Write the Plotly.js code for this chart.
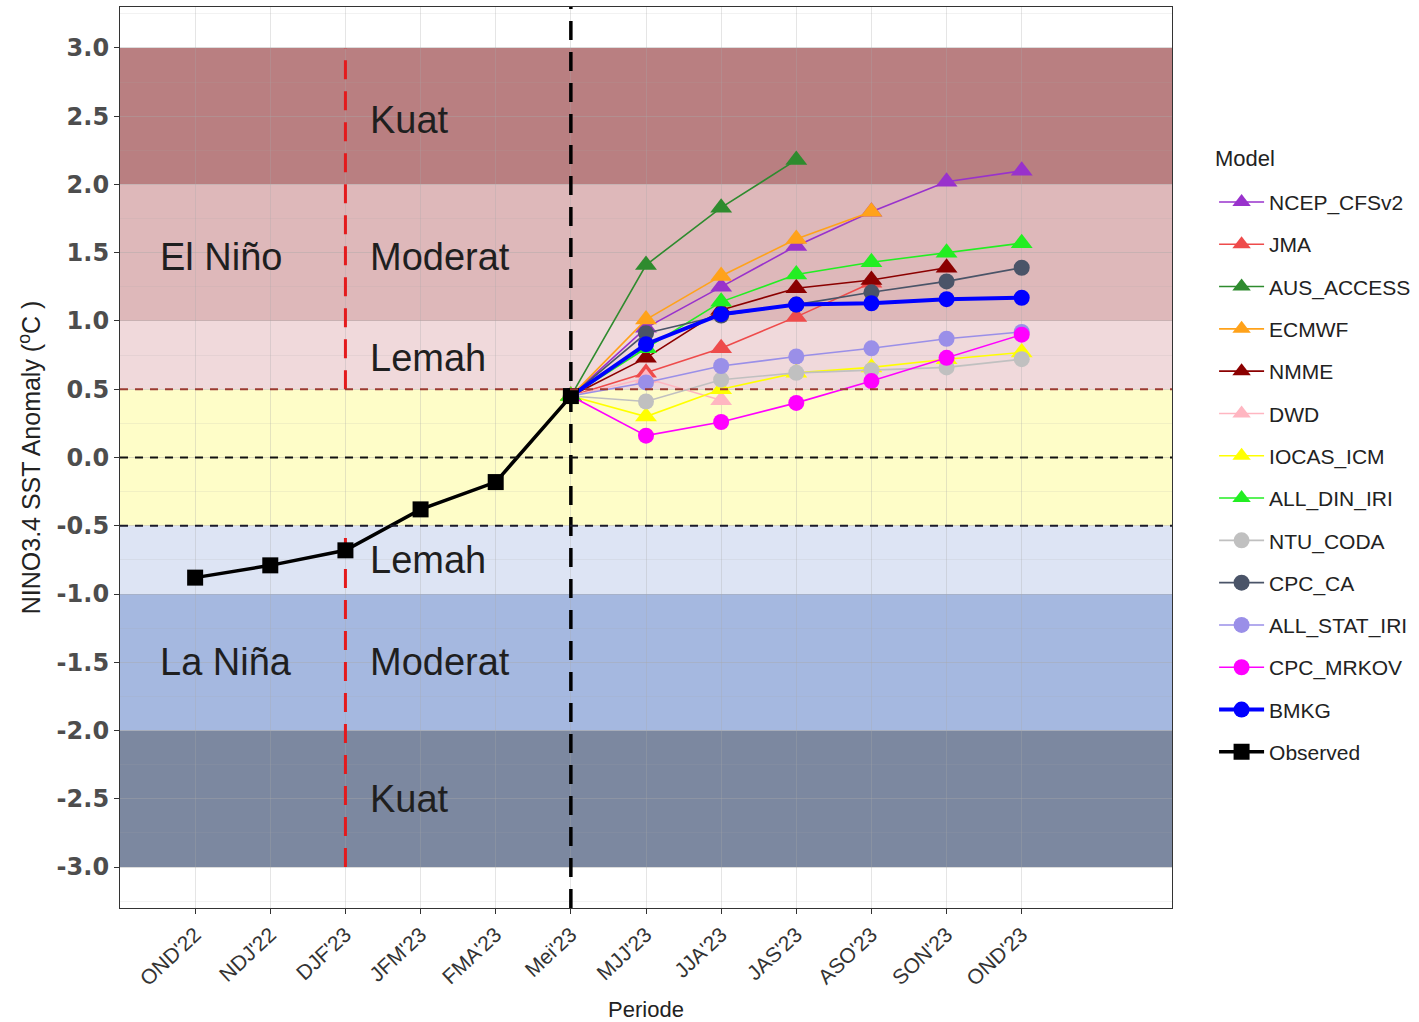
<!DOCTYPE html>
<html>
<head>
<meta charset="utf-8">
<script src="https://cdn.plot.ly/plotly-3.0.1.min.js"></script>
<style>html,body{margin:0;padding:0;background:#fff;}#chart{width:1419px;height:1022px;}</style>
</head>
<body>
<div id="chart"></div>
<script>
// ---------- data ----------
const periods = ["OND'22","NDJ'22","DJF'23","JFM'23","FMA'23","Mei'23","MJJ'23","JJA'23","JAS'23","ASO'23","SON'23","OND'23"];
const forecastPeriods = ["Mei'23","MJJ'23","JJA'23","JAS'23","ASO'23","SON'23","OND'23"];
const observedPeriods = ["OND'22","NDJ'22","DJF'23","JFM'23","FMA'23","Mei'23"];
const observed = [-0.88, -0.79, -0.68, -0.38, -0.18, 0.45];

const modelNames = ["NCEP_CFSv2","JMA","AUS_ACCESS","ECMWF","NMME","DWD","IOCAS_ICM","ALL_DIN_IRI","NTU_CODA","CPC_CA","ALL_STAT_IRI","CPC_MRKOV","BMKG"];
const ncep_cfsv2   = [0.45, 0.95, 1.25, 1.55, 1.80, 2.02, 2.10];
const jma          = [0.45, 0.62, 0.80, 1.03, 1.28, null, null];
const aus_access   = [0.45, 1.41, 1.83, 2.18, null, null, null];
const ecmwf        = [0.45, 1.01, 1.33, 1.60, 1.80, null, null];
const nmme         = [0.45, 0.73, 1.08, 1.24, 1.30, 1.39, null];
const dwd          = [0.45, 0.58, 0.42, null, null, null, null];
const iocas_icm    = [0.45, 0.30, 0.50, 0.62, 0.66, 0.72, 0.77];
const all_din_iri  = [0.45, 0.80, 1.14, 1.34, 1.43, 1.50, 1.57];
const ntu_coda     = [0.45, 0.41, 0.57, 0.62, 0.64, 0.66, 0.72];
const cpc_ca       = [0.45, 0.91, 1.04, 1.12, 1.21, 1.29, 1.39];
const all_stat_iri = [0.45, 0.55, 0.67, 0.74, 0.80, 0.87, 0.92];
const cpc_mrkov    = [0.45, 0.16, 0.26, 0.40, 0.56, 0.73, 0.90];
const bmkg         = [0.45, 0.83, 1.05, 1.12, 1.13, 1.16, 1.17];
const modelValues = [ncep_cfsv2, jma, aus_access, ecmwf, nmme, dwd, iocas_icm, all_din_iri, ntu_coda, cpc_ca, all_stat_iri, cpc_mrkov, bmkg];

// ENSO category thresholds
const bandBounds = [[2,3],[1,2],[0.5,1],[-0.5,0.5],[-1,-0.5],[-2,-1],[-3,-2]];
const yTicks = [3.0,2.5,2.0,1.5,1.0,0.5,0.0,-0.5,-1.0,-1.5,-2.0,-2.5,-3.0];
const yRange = [-3.3, 3.3];

// ---------- styles ----------
const modelColors = ["#9932CC","#EE4B4B","#2E8B2E","#FFA21A","#8B0000","#FFB6C1","#FFFF00","#22EE22","#C0C0C0","#4A5468","#9A8FE8","#FF00FF","#0000FF"];
const modelSymbols = ["triangle-up","triangle-up","triangle-up","triangle-up","triangle-up","triangle-up","triangle-up","triangle-up","circle","circle","circle","circle","circle"];
const bandColors = ["rgb(185,127,129)","rgb(222,184,186)","rgb(240,217,219)","rgb(254,253,200)","rgb(221,228,244)","rgb(165,184,224)","rgb(124,136,160)"];

const FONT = "Liberation Sans, Arial, sans-serif";

// reference lines (drawn first, under model traces)
const refLine = (x, y, color, width) => ({
  type: "scatter", mode: "lines", x: x, y: y, showlegend: false, hoverinfo: "skip",
  line: {color: color, width: width, dash: "19px,12px"}
});
const traces = [
  refLine([periods[2], periods[2]], [0.5, 3], "#E41A1C", 3),
  refLine([periods[2], periods[2]], [-3, -0.5], "#E41A1C", 3),
  refLine([periods[5], periods[5]], yRange, "#000000", 3.5)
];

modelNames.forEach((name, i) => traces.push({
  type: "scatter",
  mode: "lines+markers",
  name: name,
  legendgroup: name,
  x: forecastPeriods,
  y: modelValues[i],
  connectgaps: false,
  line: {color: modelColors[i], width: name === "BMKG" ? 4 : 1.6},
  marker: {color: modelColors[i], symbol: modelSymbols[i], size: modelSymbols[i] === "circle" ? 16 : 19},
  hoverinfo: "x+y+name"
}));
traces.push({
  type: "scatter",
  mode: "lines+markers",
  name: "Observed",
  legendgroup: "Observed",
  x: observedPeriods,
  y: observed,
  line: {color: "#000000", width: 3.5},
  marker: {color: "#000000", symbol: "square", size: 16}
});

const shapes = bandBounds.map((b, i) => ({
  type: "rect", xref: "paper", yref: "y", x0: 0, x1: 1, y0: b[0], y1: b[1],
  fillcolor: bandColors[i], line: {width: 0}, layer: "below"
}));
shapes.push(
  {type: "line", xref: "paper", yref: "y", x0: 0, x1: 1, y0: 0.5, y1: 0.5, line: {color: "#9A3A30", width: 2, dash: "8px,7px"}, layer: "above"},
  {type: "line", xref: "paper", yref: "y", x0: 0, x1: 1, y0: 0, y1: 0, line: {color: "#111", width: 2, dash: "8px,7px"}, layer: "above"},
  {type: "line", xref: "paper", yref: "y", x0: 0, x1: 1, y0: -0.5, y1: -0.5, line: {color: "#1a1a2a", width: 2, dash: "8px,7px"}, layer: "above"}
);

const annFont = {family: FONT, size: 38, color: "#1f1f1f"};
const labels = [
  {t: "Kuat", x: 2.3, y: 2.47},
  {t: "Moderat", x: 2.3, y: 1.47},
  {t: "Lemah", x: 2.3, y: 0.73},
  {t: "El Niño", x: -0.5, y: 1.47},
  {t: "Lemah", x: 2.3, y: -0.75},
  {t: "La Niña", x: -0.5, y: -1.5},
  {t: "Moderat", x: 2.3, y: -1.5},
  {t: "Kuat", x: 2.3, y: -2.5}
];
const annotations = labels.map(l => ({
  text: l.t, x: l.x, y: l.y, xref: "x", yref: "y", showarrow: false,
  xanchor: "left", yanchor: "middle", font: annFont
}));
annotations.push({
  text: "Model", xref: "paper", yref: "paper", x: 1.039, y: 0.8324,
  xanchor: "left", yanchor: "middle", showarrow: false,
  font: {family: FONT, size: 22, color: "#222"}
});

const layout = {
  width: 1419, height: 1022,
  margin: {l: 120, r: 247, t: 7, b: 114, autoexpand: false},
  paper_bgcolor: "#ffffff",
  plot_bgcolor: "#ffffff",
  font: {family: FONT, color: "#333"},
  showlegend: true,
  legend: {
    x: 1.040, xanchor: "left", y: 0.806, yanchor: "top",
    font: {family: FONT, size: 21, color: "#222"},
    tracegroupgap: 12,
    bgcolor: "rgba(255,255,255,0)",
    itemwidth: 45
  },
  xaxis: {
    type: "category",
    categoryorder: "array",
    categoryarray: periods,
    range: [-1, 13],
    tickmode: "array",
    tickvals: periods,
    ticktext: periods,
    tickangle: -43,
    tickfont: {family: FONT, size: 21, color: "#333"},
    ticks: "outside", ticklen: 5, tickcolor: "#333",
    showgrid: true, gridcolor: "rgba(170,170,170,0.3)", gridwidth: 1,
    showline: true, linecolor: "#333", linewidth: 1.2, mirror: true,
    zeroline: false,
    title: {text: "Periode", font: {family: FONT, size: 22, color: "#222"}, standoff: 12}
  },
  yaxis: {
    range: yRange,
    tickmode: "array",
    tickvals: yTicks,
    ticktext: yTicks.map(v => v.toFixed(1)),
    tickfont: {family: "DejaVu Sans, sans-serif", size: 24, color: "#4d4d4d", weight: "bold"},
    ticks: "outside", ticklen: 5, tickcolor: "#333",
    showgrid: true, gridcolor: "rgba(170,170,170,0.3)", gridwidth: 1,
    minor: {dtick: 0.25, showgrid: true, gridcolor: "rgba(170,170,170,0.15)", gridwidth: 0.6},
    showline: true, linecolor: "#333", linewidth: 1.2, mirror: true,
    zeroline: false,
    title: {text: "NINO3.4 SST Anomaly (<sup>o</sup>C )", font: {family: FONT, size: 25, color: "#222"}, standoff: 8}
  },
  shapes: shapes,
  annotations: annotations
};

Plotly.newPlot("chart", traces, layout, {displayModeBar: false});
</script>
</body>
</html>
